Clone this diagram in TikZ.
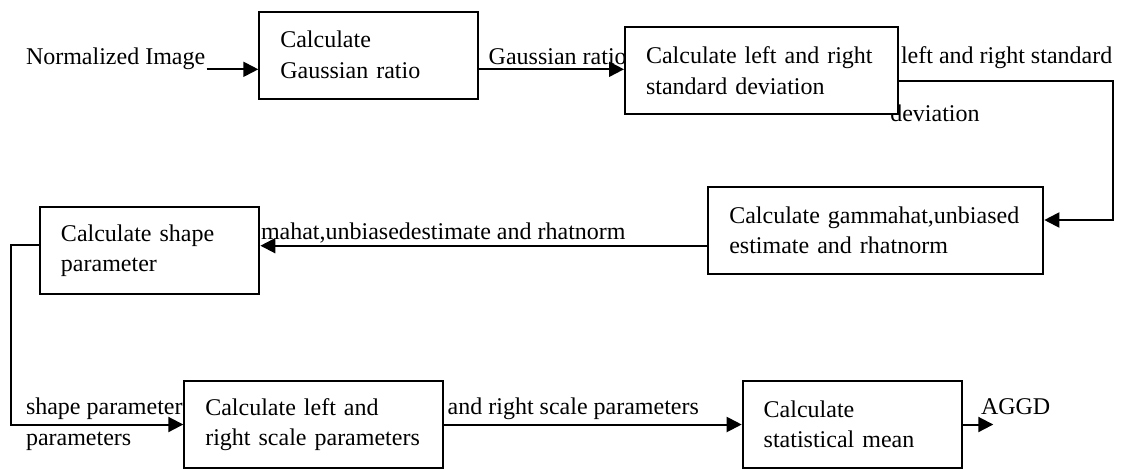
\documentclass[tikz,border=0pt]{standalone}
\usepackage{fontspec}
\setmainfont{Liberation Serif}
\usetikzlibrary{arrows.meta}

\begin{document}
\begin{tikzpicture}[x=0.5pt, y=-0.5pt, line width=1pt,
  font=\fontsize{12}{15.25}\selectfont,
  box/.style={draw, fill=white, align=left, inner xsep=10.5pt, inner ysep=0pt, minimum height=43.5pt},
  lbl/.style={anchor=base west, inner sep=0pt},
  flow/.style={-{Triangle[length=7.5pt, width=7.5pt]}}]
  \useasboundingbox (0,0) rectangle (1124,468);
  % texts on the connectors
  \node[lbl] (lnorm) at (25,64) {Normalized Image};
  \node[lbl] (lgauss) at (487.7,64) {Gaussian ratio};
  \node[lbl] (lstdup) at (900,63.3) {left and right standard};
  \node[lbl] (lstddown) at (889.3,121.7) {deviation};
  \node[lbl] (lgamma) at (260,239) {mahat,unbiasedestimate and rhatnorm};
  \node[lbl] (lshapeup) at (25,414) {shape parameter};
  \node[lbl] (lshapedown) at (25,445.7) {parameters};
  \node[lbl] (lscale) at (446.7,414) {and right scale parameters};
  \node[lbl] (laggd) at (980,414) {AGGD};
  % steps
  \node[box, text width=88.2pt] (gauss) at (368.5,55) {Calculate\\Gaussian ratio};
  \node[box, text width=115.7pt] (stddev) at (761.7,70.7) {Calculate left and right\\standard deviation};
  \node[box, text width=146.5pt] (gamma) at (875.8,230.3) {Calculate gammahat,unbiased\\estimate and rhatnorm};
  \node[box, text width=88.7pt] (shape) at (149.7,250.7) {Calculate shape\\parameter};
  \node[box, text width=108.5pt] (scale) at (313.8,424.5) {Calculate left and\\right scale parameters};
  \node[box, text width=88.8pt] (mean) at (852.5,424.5) {Calculate\\statistical mean};
  % bends and free ends
  \coordinate (src) at (206.7,69.3);
  \coordinate (turnA) at (1113.3,81);
  \coordinate (turnB) at (1113.3,220);
  \coordinate (shapein) at ([yshift=2.5pt]shape.east);
  \coordinate (turnC) at (11,245);
  \coordinate (sink) at (993.3,424.5);
  % connectors
  \draw[flow] (src) -- (src -| gauss.west);
  \draw[flow] (gauss.east |- src) -- (stddev.west |- src);
  \draw[flow] (stddev.east |- turnA) -- (turnA) -- (turnB) -- (turnB -| gamma.east);
  \draw[flow] (gamma.west |- shapein) -- (shapein);
  \draw[flow] (shape.west |- turnC) -- (turnC) |- (scale.west);
  \draw[flow] (scale.east) -- (mean.west);
  \draw[flow] (mean.east) -- (sink);
\end{tikzpicture}
\end{document}
